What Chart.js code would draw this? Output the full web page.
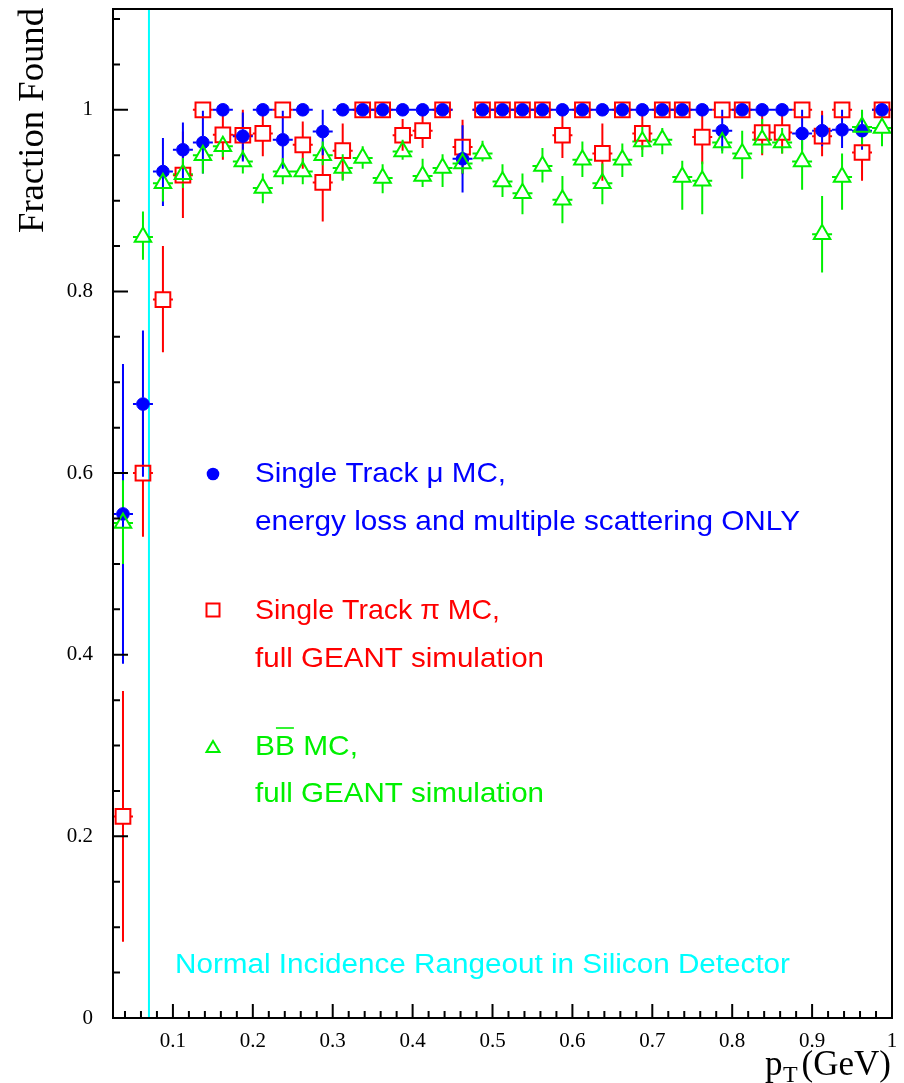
<!DOCTYPE html>
<html>
<head>
<meta charset="utf-8">
<script src="https://cdn.jsdelivr.net/npm/chart.js@4.4.0/dist/chart.umd.min.js"></script>
<style>
 html,body{margin:0;padding:0;background:#fff}
 #wrap{width:904px;height:1083px}
</style>
</head>
<body>
<div id="wrap"><canvas id="fracChart" width="904" height="1083"></canvas></div>
<script>
// bin centres in pT (GeV), bin width 0.025
const ptBins=[0.0375,0.0625,0.0875,0.1125,0.1375,0.1625,0.1875,0.2125,0.2375,0.2625,
 0.2875,0.3125,0.3375,0.3625,0.3875,0.4125,0.4375,0.4625,0.4875,0.5125,
 0.5375,0.5625,0.5875,0.6125,0.6375,0.6625,0.6875,0.7125,0.7375,0.7625,
 0.7875,0.8125,0.8375,0.8625,0.8875,0.9125,0.9375,0.9625,0.9875];
const binHalf=0.0125;

// single track mu MC
const muFrac=[0.555,0.676,0.932,0.956,0.964,1,0.971,1,0.967,1,
 0.976,1,1,1,1,1,1,0.946,1,1,
 1,1,1,1,1,1,1,1,1,1,
 0.977,1,1,1,0.974,0.977,0.978,0.977,1];
const muLo=[0.39,0.596,0.894,0.925,0.93,1,0.943,1,0.935,1,
 0.95,1,1,1,1,1,1,0.909,1,1,
 1,1,1,1,1,1,1,1,1,1,
 0.955,1,1,1,0.956,0.96,0.958,0.956,1];
const muHi=[0.72,0.757,0.969,0.986,0.999,1,0.997,1,0.999,1,
 1,1,1,1,1,1,1,0.983,1,1,
 1,1,1,1,1,1,1,1,1,1,
 1,1,1,1,1,0.994,1,0.998,1];

// single track pi MC
const piFrac=[0.222,0.600,0.791,0.928,1,0.9725,0.972,0.974,1,0.9615,
 0.920,0.955,1,1,0.972,0.977,1,0.959,1,1,
 1,1,0.972,1,0.952,1,0.974,1,1,0.970,
 1,1,0.975,0.975,1,0.971,1,0.953,1];
const piLo=[0.084,0.53,0.733,0.881,1,0.945,0.945,0.949,1,0.935,
 0.877,0.923,1,1,0.955,0.958,1,0.929,1,1,
 1,1,0.947,1,0.922,1,0.956,1,1,0.94,
 1,1,0.95,0.952,1,0.949,1,0.922,1];
const piHi=[0.36,0.67,0.85,0.976,1,1,1,1,1,0.987,
 0.956,0.985,1,1,0.99,1,1,0.989,1,1,
 1,1,1,1,0.985,1,1,1,1,0.999,
 1,1,1,1,1,0.999,1,0.977,1];

// B Bbar MC
const bbFrac=[0.545,0.860,0.919,0.929,0.950,0.960,0.943,0.914,0.932,0.932,
 0.950,0.936,0.947,0.925,0.954,0.927,0.936,0.941,0.952,0.921,
 0.908,0.938,0.901,0.945,0.919,0.945,0.965,0.967,0.926,0.922,
 0.964,0.952,0.967,0.964,0.943,0.863,0.926,0.981,0.980];
const bbLo=[0.50,0.835,0.899,0.914,0.93,0.948,0.93,0.897,0.918,0.918,
 0.939,0.922,0.935,0.908,0.945,0.915,0.915,0.93,0.943,0.904,
 0.885,0.92,0.875,0.926,0.896,0.926,0.948,0.951,0.89,0.885,
 0.952,0.924,0.952,0.952,0.912,0.821,0.89,0.96,0.96];
const bbHi=[0.592,0.888,0.931,0.947,0.964,0.970,0.956,0.930,0.947,0.947,
 0.965,0.951,0.96,0.94,0.967,0.946,0.951,0.954,0.966,0.94,
 0.93,0.958,0.927,0.965,0.941,0.963,0.981,0.98,0.944,0.943,
 0.98,0.977,0.99,0.98,0.967,0.905,0.952,1.0,1.0];

const xMajor=[0.1,0.2,0.3,0.4,0.5,0.6,0.7,0.8,0.9,1.0];
const xMinor=[0.04,0.06,0.08,0.12,0.14,0.16,0.18,0.22,0.24,0.26,0.28,0.32,0.34,0.36,0.38,
 0.42,0.44,0.46,0.48,0.52,0.54,0.56,0.58,0.62,0.64,0.66,0.68,0.72,0.74,0.76,0.78,
 0.82,0.84,0.86,0.88,0.92,0.94,0.96,0.98];
const yMajor=[0,0.2,0.4,0.6,0.8,1.0];
const yMinor=[0.05,0.1,0.15,0.25,0.3,0.35,0.45,0.5,0.55,0.65,0.7,0.75,0.85,0.9,0.95,1.05,1.1];
const rangeoutPt=0.07;

const BLUE="#0000ff",RED="#ff0000",GREEN="#00f000",CYAN="#00ffff";
const SANS="'Liberation Sans', Arial, sans-serif";
const SERIF="'Liberation Serif', 'Times New Roman', serif";

function toPoints(vals){
 return ptBins.map((x,i)=>({x:x,y:vals[i]}));
}

function stretchText(ctx,txt,x,y,font,color,width){
 ctx.save();
 ctx.font=font;
 ctx.fillStyle=color;
 ctx.textBaseline="alphabetic";
 ctx.textAlign="left";
 const w=ctx.measureText(txt).width;
 const sx=width?width/w:1;
 ctx.translate(x,y);
 ctx.scale(sx,1);
 ctx.fillText(txt,0,0);
 ctx.restore();
 return sx;
}

function noPad(s){
 s.paddingTop=0;s.paddingBottom=0;s.paddingLeft=0;s.paddingRight=0;
}

const errorBars={
 id:"errorBars",
 beforeDatasetsDraw(chart){
   const ctx=chart.ctx,xs=chart.scales.x,ys=chart.scales.y,a=chart.chartArea;
   ctx.save();
   // rangeout line
   const cx=xs.getPixelForValue(rangeoutPt);
   ctx.strokeStyle=CYAN;ctx.lineWidth=2;
   ctx.beginPath();ctx.moveTo(cx,a.top);ctx.lineTo(cx,a.bottom);ctx.stroke();

   ctx.beginPath();ctx.rect(a.left,a.top,a.right-a.left,a.bottom-a.top);ctx.clip();
   chart.data.datasets.forEach((ds,k)=>{
     const meta=chart.getDatasetMeta(k);
     const g=ds.gap;
     ctx.strokeStyle=ds.borderColor;
     ctx.lineWidth=2;
     ctx.beginPath();
     meta.data.forEach((pt,i)=>{
       const x=pt.x,y=pt.y;
       const xl=xs.getPixelForValue(ptBins[i]-binHalf);
       const xr=xs.getPixelForValue(ptBins[i]+binHalf);
       const yl=ys.getPixelForValue(ds.errLo[i]);
       const yh=ys.getPixelForValue(ds.errHi[i]);
       if(yh<y-g.up){ctx.moveTo(x,yh);ctx.lineTo(x,y-g.up);}
       if(yl>y+g.down){ctx.moveTo(x,y+g.down);ctx.lineTo(x,yl);}
       ctx.moveTo(xl,y);ctx.lineTo(x-g.side,y);
       ctx.moveTo(x+g.side,y);ctx.lineTo(xr,y);
     });
     ctx.stroke();
   });
   ctx.restore();
 }
};

const decor={
 id:"decor",
 afterDraw(chart){
   const ctx=chart.ctx,xs=chart.scales.x,ys=chart.scales.y,a=chart.chartArea;
   ctx.save();
   // frame
   ctx.strokeStyle="#000";ctx.lineWidth=2;
   ctx.strokeRect(a.left,a.top,a.right-a.left,a.bottom-a.top);
   // ticks
   ctx.beginPath();
   xMajor.forEach(v=>{const p=xs.getPixelForValue(v);ctx.moveTo(p,a.bottom);ctx.lineTo(p,a.bottom-14);});
   xMinor.forEach(v=>{const p=xs.getPixelForValue(v);ctx.moveTo(p,a.bottom);ctx.lineTo(p,a.bottom-7);});
   yMajor.forEach(v=>{const p=ys.getPixelForValue(v);ctx.moveTo(a.left,p);ctx.lineTo(a.left+15,p);});
   yMinor.forEach(v=>{const p=ys.getPixelForValue(v);ctx.moveTo(a.left,p);ctx.lineTo(a.left+7,p);});
   ctx.stroke();

   // axis titles
   ctx.save();
   ctx.translate(43,233);
   ctx.rotate(-Math.PI/2);
   stretchText(ctx,"Fraction Found",0,0,"35px "+SERIF,"#000",225);
   ctx.restore();
   ctx.font="35px "+SERIF;ctx.fillStyle="#000";
   ctx.textAlign="left";ctx.fillText("p",765,1075);
   ctx.font="24px "+SERIF;ctx.fillText("T",783,1082);
   ctx.font="35px "+SERIF;ctx.textAlign="right";ctx.fillText("(GeV)",891,1075);

   // legend
   ctx.fillStyle=BLUE;
   ctx.beginPath();ctx.arc(213,474,6.3,0,Math.PI*2);ctx.fill();
   stretchText(ctx,"Single Track \u03bc MC,",255,482,"28px "+SANS,BLUE,251);
   stretchText(ctx,"energy loss and multiple scattering ONLY",255,530,"28px "+SANS,BLUE,545);

   ctx.strokeStyle=RED;ctx.lineWidth=2;
   ctx.strokeRect(206.5,603.5,13,13);
   stretchText(ctx,"Single Track \u03c0 MC,",255,619,"28px "+SANS,RED,245);
   stretchText(ctx,"full GEANT simulation",255,667,"28px "+SANS,RED,289);

   ctx.strokeStyle=GREEN;
   ctx.beginPath();ctx.moveTo(213,741);ctx.lineTo(219.5,752);ctx.lineTo(206.5,752);ctx.closePath();ctx.stroke();
   ctx.font="28px "+SANS;
   const bw=ctx.measureText("B").width;
   const sx=stretchText(ctx,"BB MC,",255,755,"28px "+SANS,GREEN,103);
   ctx.beginPath();
   ctx.lineWidth=1.6;
   ctx.moveTo(255+bw*sx+1,728);ctx.lineTo(255+2*bw*sx-1,728);ctx.stroke();
   stretchText(ctx,"full GEANT simulation",255,802,"28px "+SANS,GREEN,289);

   stretchText(ctx,"Normal Incidence Rangeout in Silicon Detector",175,973,"27px "+SANS,CYAN,615);
   ctx.restore();
 }
};

const chart=new Chart(document.getElementById("fracChart"),{
 type:"scatter",
 data:{
   datasets:[
     {label:"pi",data:toPoints(piFrac),errLo:piLo,errHi:piHi,
      pointStyle:"rect",pointRadius:10.4,pointHoverRadius:10.4,
      borderColor:RED,backgroundColor:"rgba(0,0,0,0)",pointBorderWidth:2,
      gap:{up:7.4,down:7.4,side:7.4},order:3},
     {label:"mu",data:toPoints(muFrac),errLo:muLo,errHi:muHi,
      pointStyle:"circle",pointRadius:6.3,pointHoverRadius:6.3,
      borderColor:BLUE,backgroundColor:BLUE,pointBorderWidth:1,
      gap:{up:6.3,down:6.3,side:6.3},order:2},
     {label:"bb",data:toPoints(bbFrac),errLo:bbLo,errHi:bbHi,
      pointStyle:"triangle",pointRadius:9.5,pointHoverRadius:9.5,
      borderColor:GREEN,backgroundColor:"rgba(0,0,0,0)",pointBorderWidth:2,
      gap:{up:9.5,down:4.8,side:5.5},order:1}
   ]
 },
 options:{
   responsive:false,
   animation:false,
   devicePixelRatio:1,
   layout:{autoPadding:false,padding:{top:9,right:12,left:0,bottom:0}},
   plugins:{legend:{display:false},tooltip:{enabled:false}},
   scales:{
     x:{
       type:"linear",min:0.025,max:1.0,
       grid:{display:false},border:{display:false},
       afterBuildTicks:s=>{s.ticks=xMajor.map(v=>({value:v}));},
       afterFit:s=>{s.height=65;noPad(s);},
       ticks:{color:"#000",padding:3,maxRotation:0,autoSkip:false,
         font:{family:"Liberation Serif",size:21},
         callback:v=>String(+v.toFixed(1))}
     },
     y:{
       type:"linear",min:0,max:1.111,
       grid:{display:false},border:{display:false},
       afterBuildTicks:s=>{s.ticks=yMajor.map(v=>({value:v}));},
       afterFit:s=>{s.width=113;noPad(s);},
       ticks:{color:"#000",padding:12,autoSkip:false,
         font:{family:"Liberation Serif",size:21},
         callback:v=>String(+v.toFixed(1))}
     }
   }
 },
 plugins:[errorBars,decor]
});
</script>
</body>
</html>
